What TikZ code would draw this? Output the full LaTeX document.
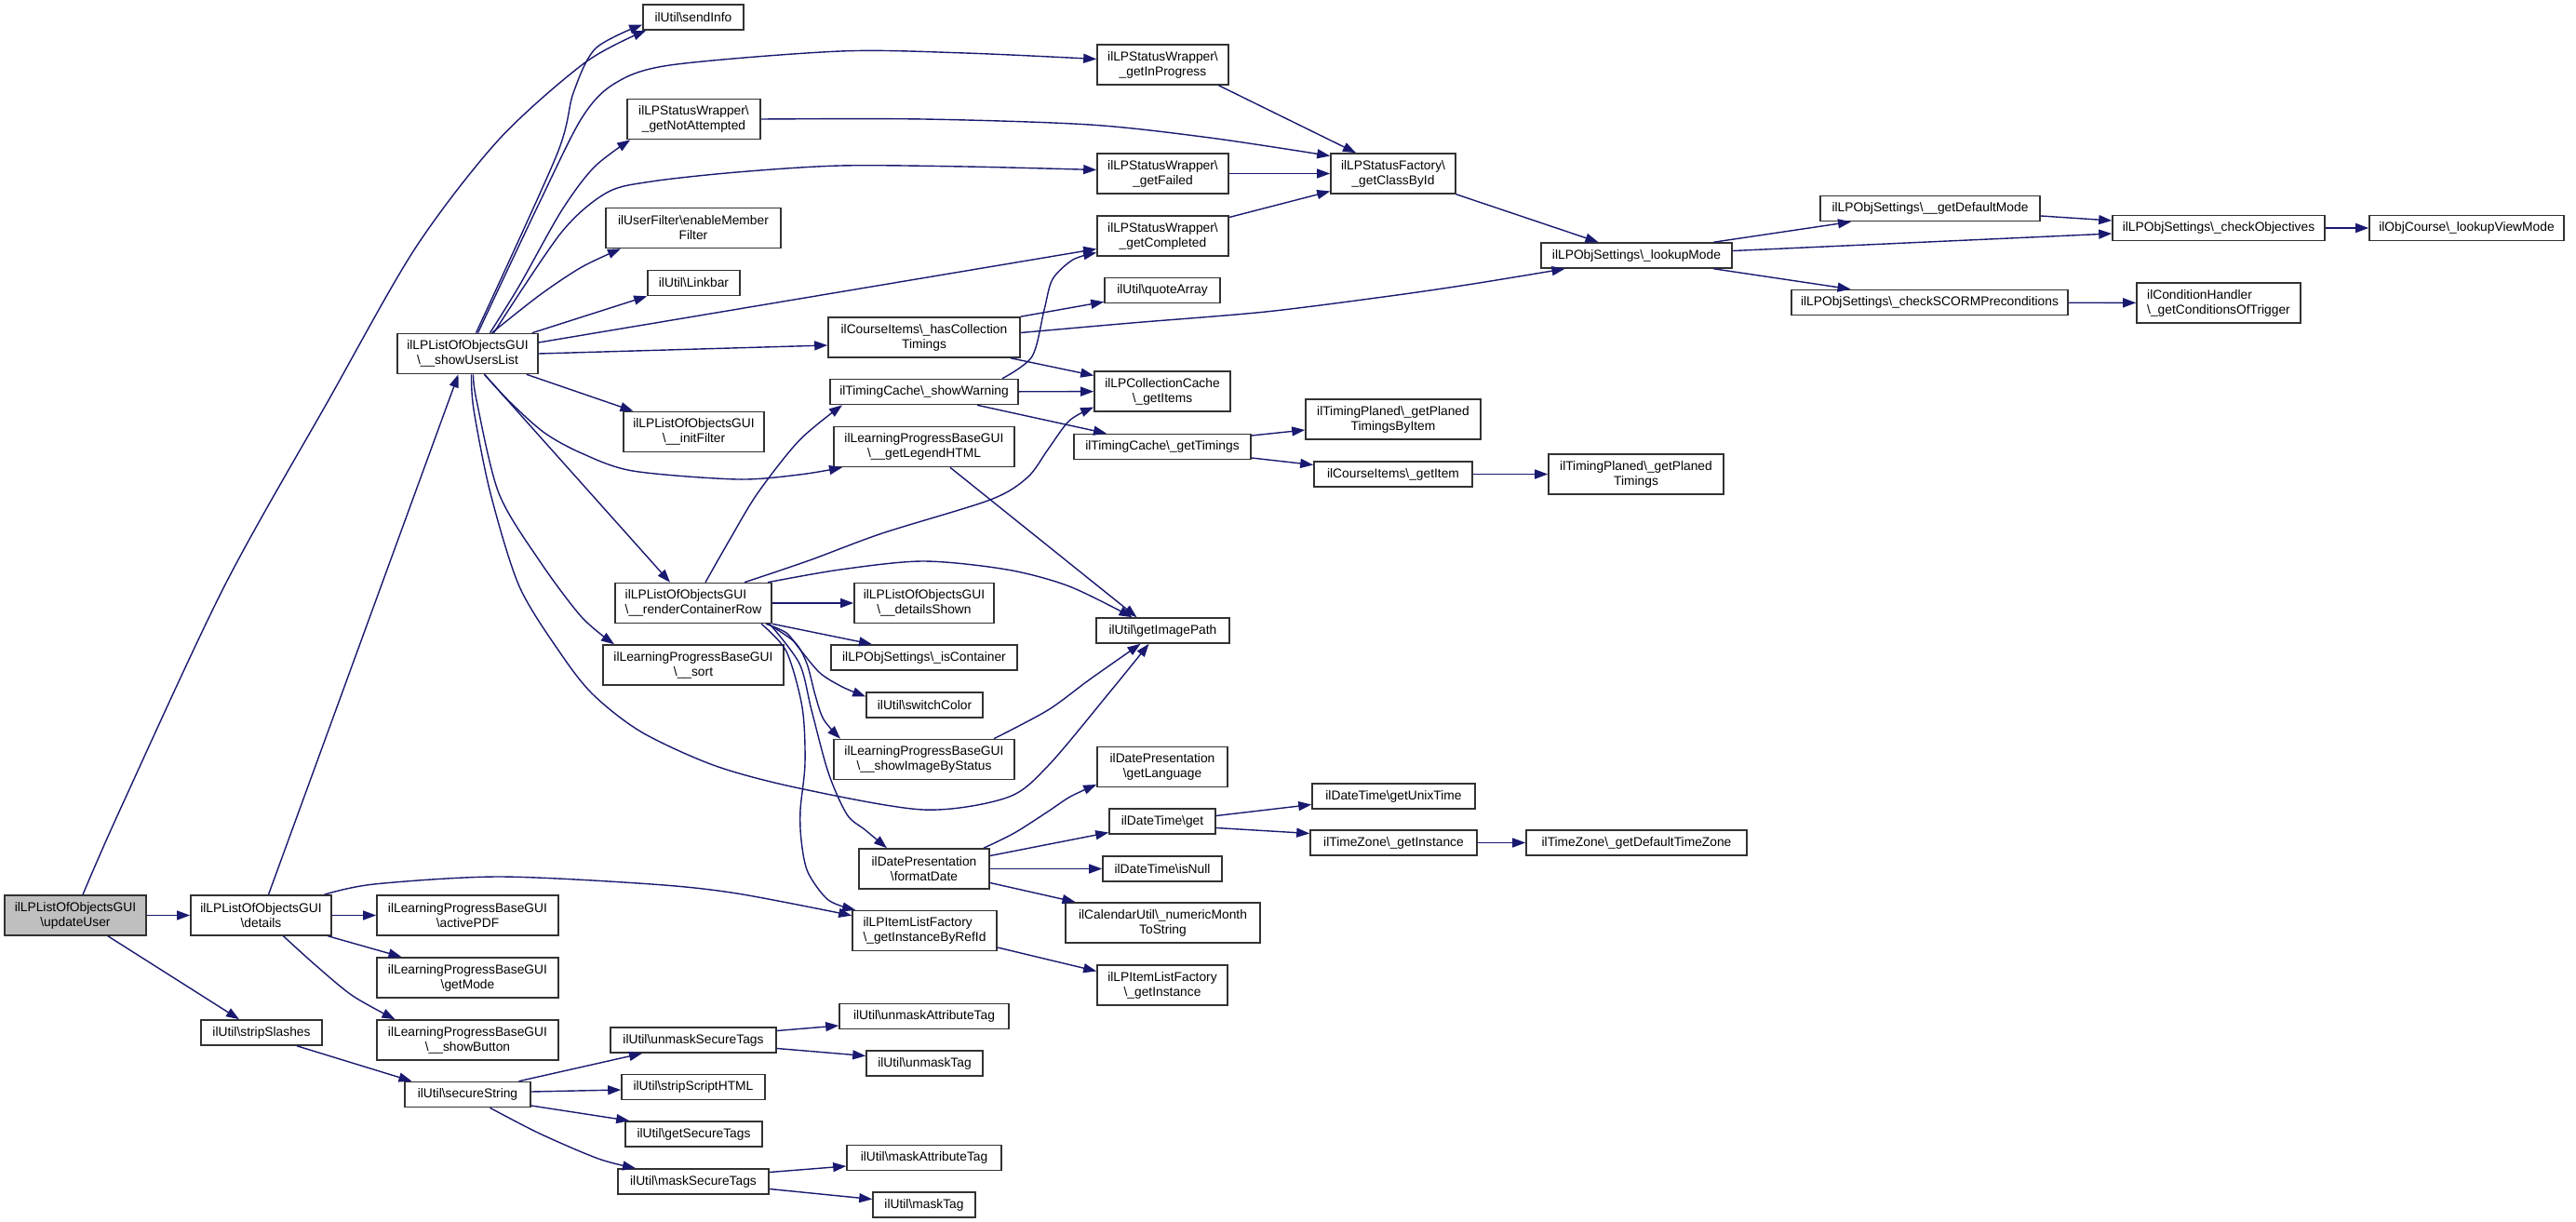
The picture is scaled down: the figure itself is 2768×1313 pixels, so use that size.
\documentclass[tikz,border=0pt]{standalone}
\usepackage{fontspec}
\setmainfont{Liberation Sans}
\usetikzlibrary{arrows.meta}
\definecolor{mblue}{RGB}{25,25,112}
\definecolor{bordr}{RGB}{50,50,50}
\definecolor{grayfill}{RGB}{191,191,191}
\newcommand{\bsl}{\textbackslash}
\begin{document}
\begin{tikzpicture}[x=1pt,y=-1pt,
  box/.style={draw=bordr, line width=1.6pt, fill=white, inner sep=0pt, align=center, font=\fontsize{13.8}{16}\selectfont, text=black},
  b1/.style={box, minimum height=27},
  b2/.style={box, minimum height=43},
  e/.style={draw=mblue, line width=1.4pt, -{Triangle[length=14pt,width=10pt]}}]
\useasboundingbox (0,0) rectangle (2768,1313);
\fill[white] (0,0) rectangle (2768,1313);

% nodes
\node[b2, minimum width=152, fill=grayfill] (uu) at (81,983.5) {ilLPListOfObjectsGUI\\\bsl updateUser};
\node[b2, minimum width=151] (det) at (280.5,983.5) {ilLPListOfObjectsGUI\\\bsl details};
\node[b1, minimum width=130] (ss) at (281,1109.5) {ilUtil\bsl stripSlashes};
\node[b2, minimum width=151] (sul) at (502.5,380) {ilLPListOfObjectsGUI\\\bsl\_\_showUsersList};
\node[b2, minimum width=195] (apdf) at (502.5,983.5) {ilLearningProgressBaseGUI\\\bsl activePDF};
\node[b2, minimum width=195] (gm) at (502.5,1050.5) {ilLearningProgressBaseGUI\\\bsl getMode};
\node[b2, minimum width=195] (sb) at (502.5,1117.5) {ilLearningProgressBaseGUI\\\bsl\_\_showButton};
\node[b1, minimum width=135] (sec) at (502.5,1176) {ilUtil\bsl secureString};
\node[b1, minimum width=108] (si) at (745,18.5) {ilUtil\bsl sendInfo};
\node[b2, minimum width=143] (gna) at (745.5,128) {ilLPStatusWrapper\bsl\\\_getNotAttempted};
\node[b2, minimum width=188] (uf) at (745,245) {ilUserFilter\bsl enableMember\\Filter};
\node[b1, minimum width=99] (lb) at (745.5,304) {ilUtil\bsl Linkbar};
\node[b2, minimum width=151] (ifl) at (745.5,464) {ilLPListOfObjectsGUI\\\bsl\_\_initFilter};
\node[b2, minimum width=168, align=left] (rcr) at (745,648) {ilLPListOfObjectsGUI\\\bsl\_\_renderContainerRow};
\node[b2, minimum width=194] (srt) at (745,714.5) {ilLearningProgressBaseGUI\\\bsl\_\_sort};
\node[b1, minimum width=178] (ust) at (745,1117.5) {ilUtil\bsl unmaskSecureTags};
\node[b1, minimum width=154] (ssh) at (745,1168) {ilUtil\bsl stripScriptHTML};
\node[b1, minimum width=147] (gst) at (745.5,1218.5) {ilUtil\bsl getSecureTags};
\node[b1, minimum width=162] (mst) at (745,1269.5) {ilUtil\bsl maskSecureTags};
\node[b2, minimum width=206] (hct) at (993,362.5) {ilCourseItems\bsl\_hasCollection\\Timings};
\node[b1, minimum width=202] (sw) at (993,421) {ilTimingCache\bsl\_showWarning};
\node[b2, minimum width=194] (glh) at (993,480) {ilLearningProgressBaseGUI\\\bsl\_\_getLegendHTML};
\node[b2, minimum width=150] (ds) at (993,648) {ilLPListOfObjectsGUI\\\bsl\_\_detailsShown};
\node[b1, minimum width=200] (ic) at (993,706.5) {ilLPObjSettings\bsl\_isContainer};
\node[b1, minimum width=125] (sc) at (993.5,757.5) {ilUtil\bsl switchColor};
\node[b2, minimum width=194] (sibs) at (993,816) {ilLearningProgressBaseGUI\\\bsl\_\_showImageByStatus};
\node[b2, minimum width=140] (fd) at (993,933.5) {ilDatePresentation\\\bsl formatDate};
\node[b2, minimum width=155, align=left] (gibr) at (993.5,1000) {ilLPItemListFactory\\\bsl\_getInstanceByRefId};
\node[b1, minimum width=182] (uat) at (993,1092) {ilUtil\bsl unmaskAttributeTag};
\node[b1, minimum width=125] (ut) at (993.5,1142.5) {ilUtil\bsl unmaskTag};
\node[b1, minimum width=166] (mat) at (993,1244) {ilUtil\bsl maskAttributeTag};
\node[b1, minimum width=110] (mt) at (993,1294.5) {ilUtil\bsl maskTag};
\node[b2, minimum width=141] (gip) at (1249.5,69.5) {ilLPStatusWrapper\bsl\\\_getInProgress};
\node[b2, minimum width=141] (gf) at (1249.5,186.5) {ilLPStatusWrapper\bsl\\\_getFailed};
\node[b2, minimum width=141] (gc) at (1249.5,253.5) {ilLPStatusWrapper\bsl\\\_getCompleted};
\node[b1, minimum width=124] (qa) at (1249,312) {ilUtil\bsl quoteArray};
\node[b2, minimum width=146] (cc) at (1249,420.5) {ilLPCollectionCache\\\bsl\_getItems};
\node[b1, minimum width=190] (gt) at (1249,480) {ilTimingCache\bsl\_getTimings};
\node[b1, minimum width=143] (gimp) at (1249.5,677.5) {ilUtil\bsl getImagePath};
\node[b2, minimum width=140] (gl) at (1249,824) {ilDatePresentation\\\bsl getLanguage};
\node[b1, minimum width=114] (dtg) at (1249,882.5) {ilDateTime\bsl get};
\node[b1, minimum width=128] (isn) at (1249,933.5) {ilDateTime\bsl isNull};
\node[b2, minimum width=209] (nm) at (1249.5,991.5) {ilCalendarUtil\bsl\_numericMonth\\ToString};
\node[b2, minimum width=140] (ilfg) at (1249,1058.5) {ilLPItemListFactory\\\bsl\_getInstance};
\node[b2, minimum width=134] (gcb) at (1497,186.5) {ilLPStatusFactory\bsl\\\_getClassById};
\node[b2, minimum width=188] (gptbi) at (1497,450.5) {ilTimingPlaned\bsl\_getPlaned\\TimingsByItem};
\node[b1, minimum width=170] (cig) at (1497,509.5) {ilCourseItems\bsl\_getItem};
\node[b1, minimum width=175] (gut) at (1497.5,855.5) {ilDateTime\bsl getUnixTime};
\node[b1, minimum width=179] (tzg) at (1497.5,905.5) {ilTimeZone\bsl\_getInstance};
\node[b1, minimum width=205] (lm) at (1758.5,274.5) {ilLPObjSettings\bsl\_lookupMode};
\node[b2, minimum width=188] (gpt) at (1758,509.5) {ilTimingPlaned\bsl\_getPlaned\\Timings};
\node[b1, minimum width=237] (gdtz) at (1758.5,905.5) {ilTimeZone\bsl\_getDefaultTimeZone};
\node[b1, minimum width=236] (gdm) at (2074,224) {ilLPObjSettings\bsl\_\_getDefaultMode};
\node[b1, minimum width=297] (csp) at (2073.5,325) {ilLPObjSettings\bsl\_checkSCORMPreconditions};
\node[b1, minimum width=228] (co) at (2384,245) {ilLPObjSettings\bsl\_checkObjectives};
\node[b2, minimum width=176, align=left] (gcot) at (2384,325.5) {ilConditionHandler\\\bsl\_getConditionsOfTrigger};
\node[b1, minimum width=209] (lvm) at (2650.5,245) {ilObjCourse\bsl\_lookupViewMode};

% edges from updateUser
\draw[e] (uu) -- (det);
\draw[e] ([xshift=35]uu.south) -- ([xshift=-24]ss.north);
\draw[e] plot[smooth] coordinates {([xshift=8]uu.north) (129,870) (241,630) (353,430) (446,267) (536,150) (629,67) ([xshift=4]si.south west)};
% details
\draw[e] ([xshift=8]det.north) -- ([xshift=-10]sul.south);
\draw[e] (det) -- (apdf);
\draw[e] ([xshift=72]det.south) -- ([xshift=-71]gm.north);
\draw[e] plot[smooth] coordinates {([xshift=24]det.south) (339,1037) (379,1070) ([xshift=-78]sb.north)};
\draw[e] plot[smooth] coordinates {([xshift=68]det.north) (402,950) (536,942) (700,950) (792,960) ([yshift=-6]gibr.north west)};
\draw[e] ([xshift=38]ss.south) -- ([xshift=-60]sec.north);
% showUsersList
\draw[e] plot[smooth] coordinates {([xshift=9]sul.north) (598,167) (616,100) (640,52) ([yshift=-8]si.west)};
\draw[e] plot[smooth] coordinates {([xshift=11]sul.north) (580,217) (625,127) (660,90) (720,70) (903,55) (1037,57) ([yshift=6]gip.west)};
\draw[e] plot[smooth] coordinates {([xshift=24]sul.north) (558,307) (603,227) (638,180) ([xshift=4]gna.south west)};
\draw[e] plot[smooth] coordinates {([xshift=28]sul.north) (603,250) (652,207) (700,195) (792,185) (903,178) (1037,179) ([yshift=4]gf.west)};
\draw[e] plot[smooth] coordinates {([xshift=26]sul.north) (580,317) (625,287) ([xshift=-78]uf.south)};
\draw[e] ([xshift=-7]sul.north east) -- (lb.south west);
\draw[e] ([yshift=12]sul.east) -- ([yshift=-14]gc.west);
\draw[e] (sul.east) -- ([yshift=-8.5]hct.west);
\draw[e] ([xshift=-13]sul.south east) -- ([xshift=-65]ifl.north);
\draw[e] ([xshift=18]sul.south) -- ([xshift=-25]rcr.north);
\draw[e] plot[smooth] coordinates {([xshift=18]sul.south) (548,432) (585,465) (625,487) (680,506) (792,515) (859,510) ([xshift=-88]glh.south)};
\draw[e] plot[smooth] coordinates {([xshift=6]sul.south) (512,430) (536,530) (580,603) (625,663) ([xshift=-85]srt.north)};
\draw[e] plot[smooth] coordinates {([xshift=4]sul.south) (509,440) (527,530) (558,630) (603,703) (638,747) (690,787) (769,823) (859,847) (992,870) (1082,857) (1126,823) (1193,743) ([xshift=-15]gimp.south)};
% renderContainerRow
\draw[e] plot[smooth] coordinates {([xshift=13]rcr.north) (784,580) (814,530) (859,473) ([xshift=-88]sw.south)};
\draw[e] plot[smooth] coordinates {([xshift=55]rcr.north) (870,602) (948,573) (1064,537) (1104,513) (1126,483) (1149,452) ([yshift=-17]cc.west)};
\draw[e] plot[smooth] coordinates {([xshift=80]rcr.north) (903,612) (992,603) (1082,612) (1149,630) ([xshift=-33]gimp.north)};
\draw[e] (rcr) -- (ds);
\draw[e] (rcr.south east) -- ([xshift=-56]ic.north);
\draw[e] plot[smooth] coordinates {([xshift=78]rcr.south) (845,680) (859,697) (881,723) (905,738) ([yshift=9]sc.west)};
\draw[e] plot[smooth] coordinates {([xshift=80]rcr.south) (854,690) (867,713) (876,747) (885,773) ([xshift=-90]sibs.north)};
\draw[e] plot[smooth] coordinates {([xshift=82]rcr.south) (859,713) (872,763) (890,830) (910,875) (930,892) ([xshift=-40]fd.north)};
\draw[e] plot[smooth] coordinates {([xshift=73]rcr.south) (845,700) (862,760) (865,820) (860,870) (861,903) (868,937) (890,967) ([xshift=4]gibr.north west)};
% hasCollectionTimings
\draw[e] (hct.north east) -- ([yshift=2]qa.south west);
\draw[e] plot[smooth] coordinates {([yshift=5]hct.east) (1216,347) (1360,335) (1494,318) (1583,305) ([xshift=-77]lm.south)};
\draw[e] ([xshift=93]hct.south) -- ([yshift=17]cc.west);
% showWarning
\draw[e] plot[smooth] coordinates {([xshift=84]sw.north) (1109,383) (1122,333) (1131,300) (1153,279) ([yshift=-18]gc.west)};
\draw[e] (sw) -- (cc);
\draw[e] ([xshift=57]sw.south) -- ([xshift=-60]gt.north);
% getImagePath callers
\draw[e] ([xshift=28]glh.south) -- ([xshift=-28]gimp.north);
\draw[e] plot[smooth] coordinates {([xshift=75]sibs.north) (1126,763) (1171,730) ([xshift=-24]gimp.south)};
% getTimings
\draw[e] ([yshift=12]gt.east) -- ([yshift=-11.5]gptbi.west);
\draw[e] ([yshift=-12]gt.east) -- ([yshift=10]cig.west);
\draw[e] (cig) -- (gpt);
% getClassById
\draw[e] ([xshift=60]gip.south) -- ([xshift=-40]gcb.north);
\draw[e] plot[smooth] coordinates {(gna.east) (992,128) (1171,134) (1300,148) ([yshift=19]gcb.west)};
\draw[e] (gf) -- (gcb);
\draw[e] ([yshift=20]gc.east) -- ([yshift=-19]gcb.west);
\draw[e] (gcb.south east) -- ([xshift=-41]lm.north);
% lookupMode
\draw[e] ([xshift=83]lm.north) -- ([xshift=-85]gdm.south);
\draw[e] ([yshift=5]lm.east) -- ([yshift=-6]co.west);
\draw[e] ([xshift=83]lm.south) -- ([xshift=-85]csp.north);
\draw[e] ([yshift=-8]gdm.east) -- ([yshift=8]co.west);
\draw[e] (co) -- (lvm);
\draw[e] (csp) -- (gcot);
% formatDate
\draw[e] plot[smooth] coordinates {([xshift=64]fd.north) (1090,895) (1126,872) (1150,856) ([yshift=-19]gl.west)};
\draw[e] ([yshift=14]fd.east) -- ([yshift=-12]dtg.west);
\draw[e] (fd) -- (isn);
\draw[e] ([yshift=-15]fd.east) -- ([xshift=-94]nm.north);
\draw[e] ([yshift=-18]gibr.east) -- ([yshift=15]ilfg.west);
\draw[e] ([yshift=6]dtg.east) -- ([yshift=-9]gut.west);
\draw[e] ([yshift=-7]dtg.east) -- ([yshift=10]tzg.west);
\draw[e] (tzg) -- (gdtz);
% secureString
\draw[e] ([xshift=55]sec.north) -- ([xshift=-55]ust.south);
\draw[e] ([yshift=3]sec.east) -- ([yshift=-3]ssh.west);
\draw[e] ([yshift=-12]sec.east) -- ([xshift=5]gst.north west);
\draw[e] plot[smooth] coordinates {([xshift=24]sec.south) (580,1218) (643,1245) ([xshift=-62]mst.north)};
\draw[e] ([yshift=10]ust.east) -- ([yshift=-10]uat.west);
\draw[e] ([yshift=-9]ust.east) -- ([yshift=8]ut.west);
\draw[e] ([yshift=10]mst.east) -- ([yshift=-9]mat.west);
\draw[e] ([yshift=-8]mst.east) -- ([yshift=6]mt.west);
\end{tikzpicture}
\end{document}
